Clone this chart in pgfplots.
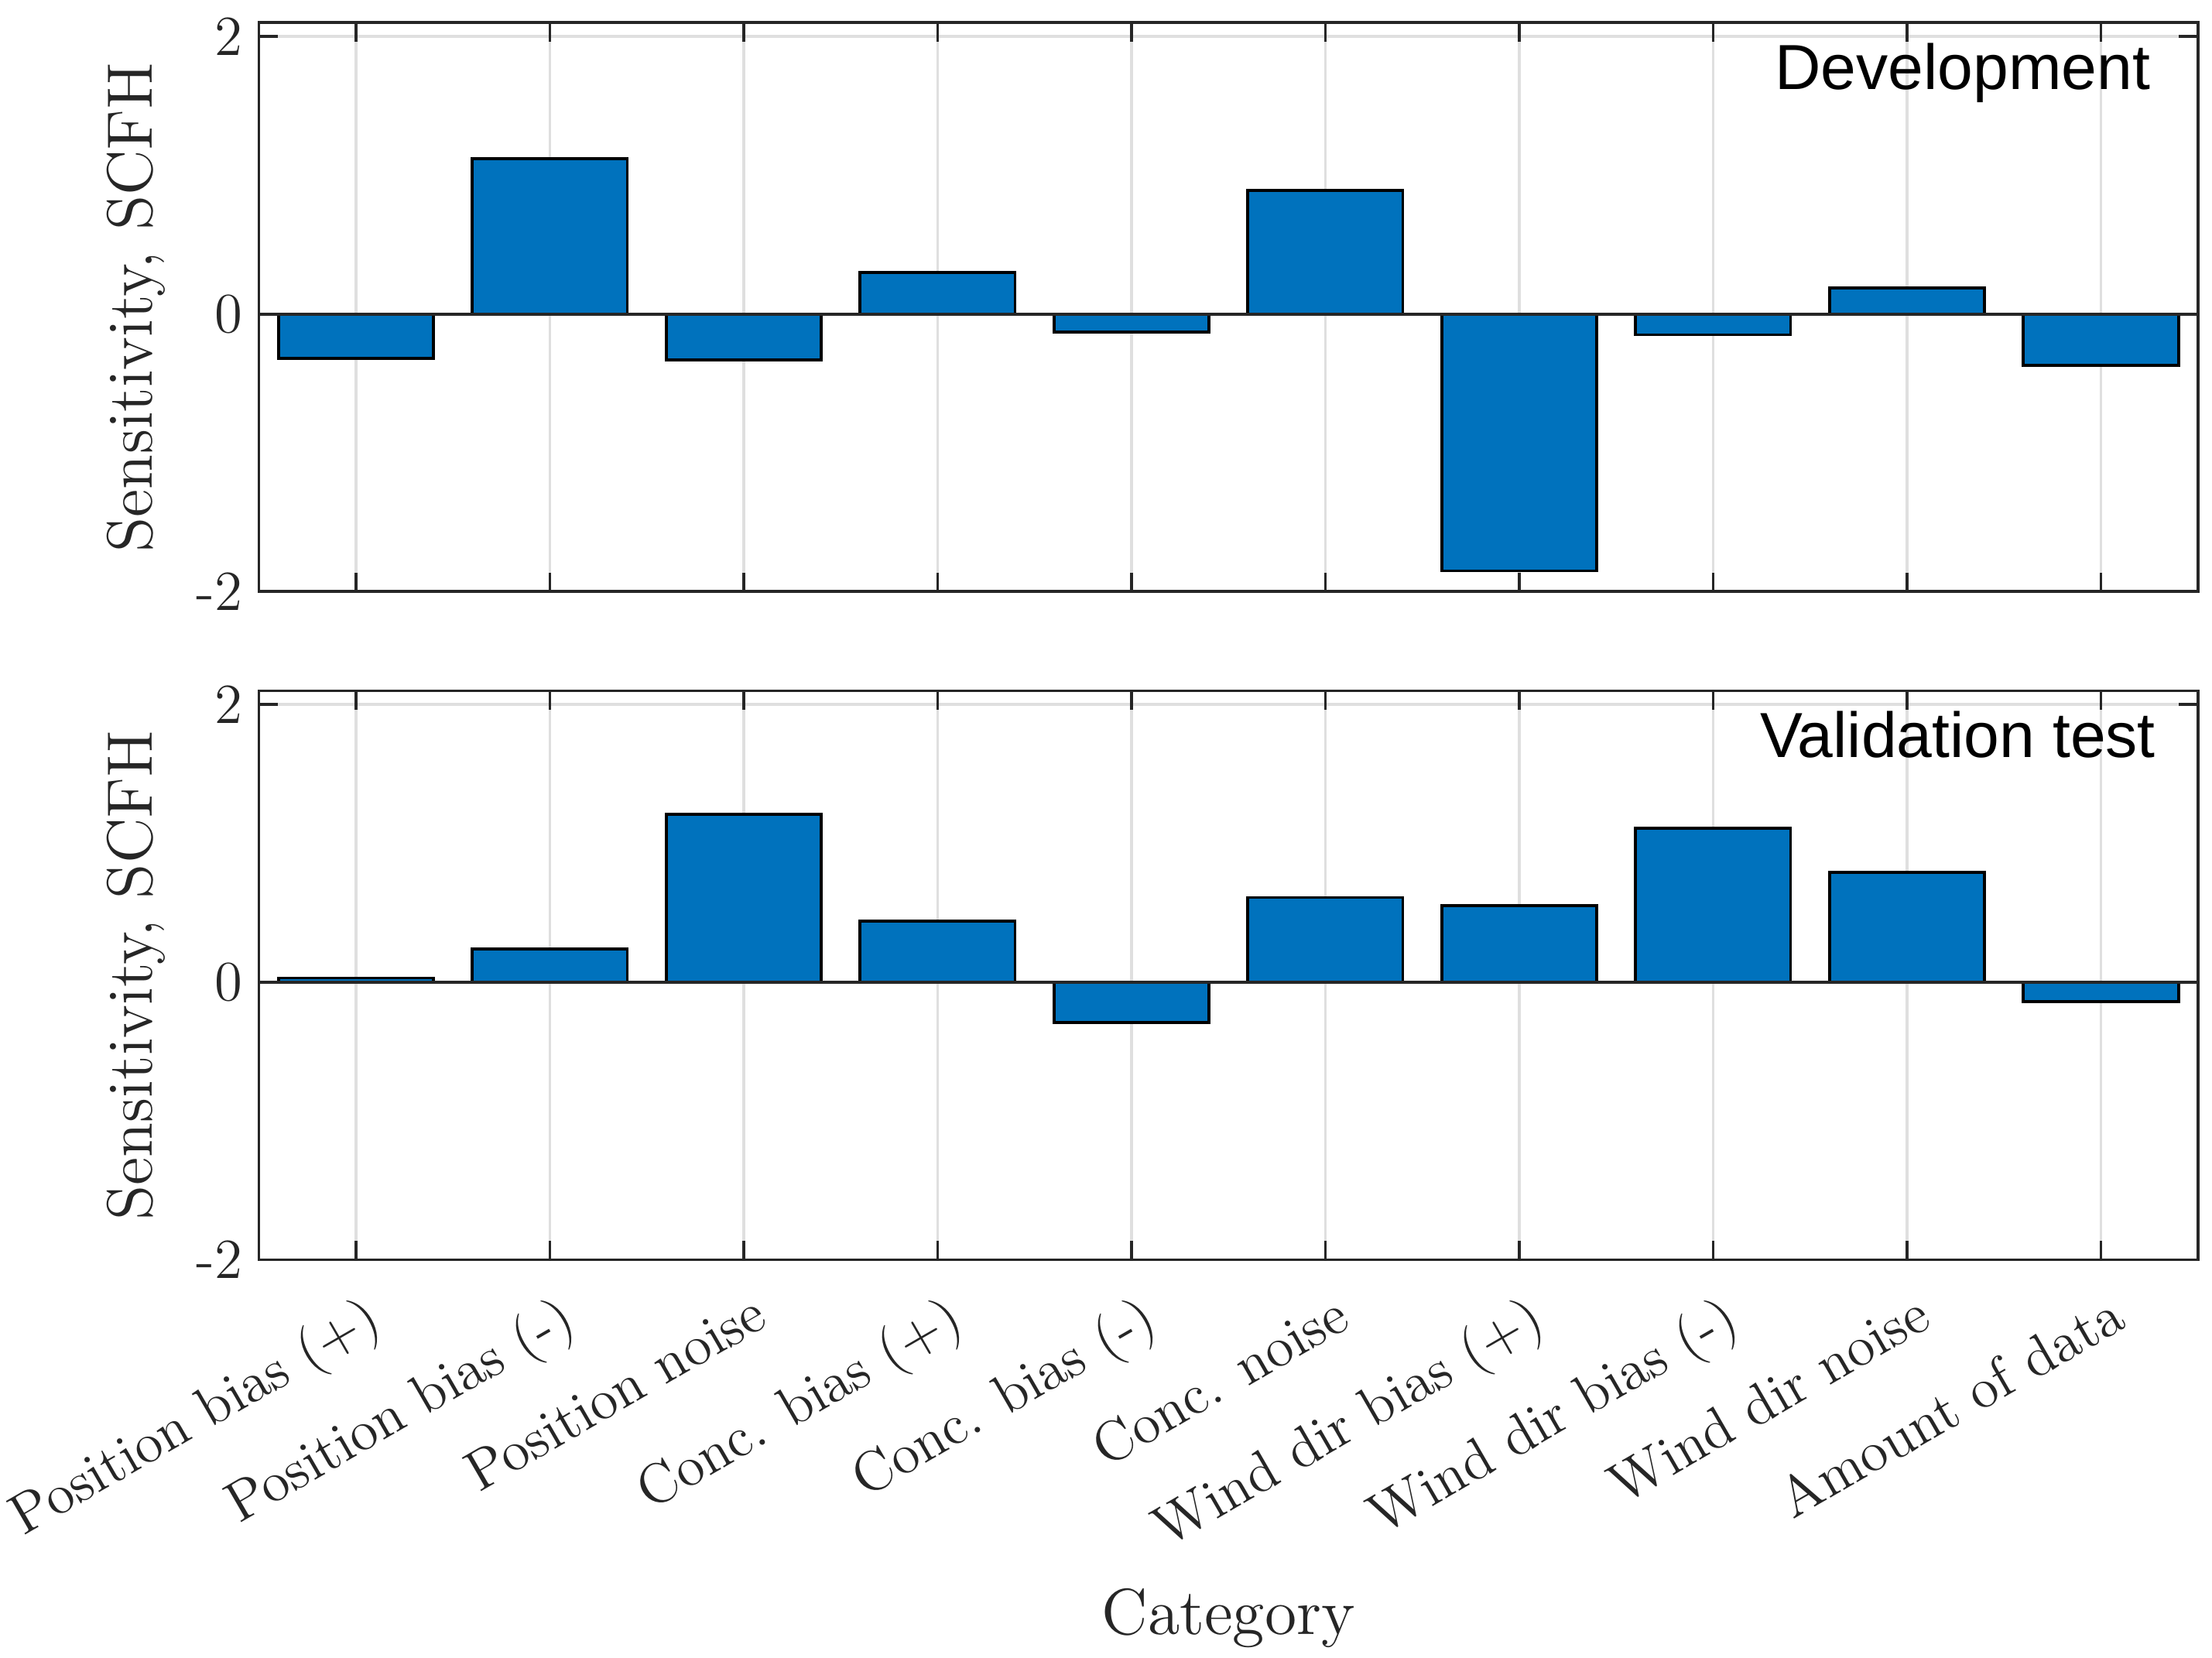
\documentclass[border=0pt]{standalone}
\usepackage{fontspec}
\newfontfamily\arial{Liberation Sans}
\usepackage{pgfplots}
\pgfplotsset{compat=1.18}
\definecolor{mblue}{RGB}{0,114,189}
\definecolor{axgray}{RGB}{38,38,38}
\definecolor{gridgray}{RGB}{223,223,223}
\pgfplotsset{
  mystyle/.style={
    scale only axis, width=411pt, height=120.6pt,
    xmin=0.5, xmax=10.5, ymin=-2, ymax=2.1,
    xtick={1,2,3,4,5,6,7,8,9,10},
    ytick={-2,0,2}, yticklabels={-2,0,2},
    tick align=inside, tick pos=both, major tick length=4pt,
    axis line style={axgray, line width=0.6pt},
    every tick/.style={axgray, line width=0.6pt},
    xmajorgrids, ymajorgrids,
    major grid style={gridgray, line width=0.6pt},
    ticklabel style={font=\fontsize{12}{14}\selectfont, text=axgray},
    ylabel={Sensitivity, SCFH},
    ylabel style={font=\fontsize{13.6}{15}\selectfont, text=axgray,
      at={(axis description cs:-0.0477,0.5)}, anchor=south, inner sep=0pt},
  },
  mybar/.style={ybar, bar width=0.8, fill=mblue, draw=black, line width=0.6pt},
}
\begin{document}
\begin{tikzpicture}
\useasboundingbox (-54.9pt,-84.3pt) rectangle (414pt,267pt);
% top panel
\begin{axis}[mystyle, at={(0pt,141.6pt)}, anchor=south west, xticklabels={}]
\addplot[mybar] coordinates {(1,-0.32) (2,1.12) (3,-0.33) (4,0.30) (5,-0.13) (6,0.89) (7,-1.85) (8,-0.15) (9,0.19) (10,-0.37)};
\addplot[axgray, line width=0.6pt, forget plot] coordinates {(0.5,0) (10.5,0)};
\node[anchor=north east, inner sep=0pt, font=\arial\fontsize{13.5}{15}\selectfont] at (rel axis cs:0.9759,0.965) {Development};
\end{axis}
% bottom panel
\begin{axis}[mystyle, at={(0pt,0pt)}, anchor=south west,
  xticklabels={Position bias (+),Position bias (-),Position noise,Conc. bias (+),Conc. bias (-),Conc. noise,Wind dir bias (+),Wind dir bias (-),Wind dir noise,Amount of data},
  xticklabel style={inner sep=0pt, xshift=1.5pt, yshift=-6.5pt, rotate=30, anchor=north east},
  xlabel={Category},
  xlabel style={font=\fontsize{13.8}{15}\selectfont, text=axgray, at={(axis description cs:0.5,-0.577)}, anchor=north, inner sep=0pt},
]
\addplot[mybar] coordinates {(1,0.03) (2,0.24) (3,1.21) (4,0.44) (5,-0.29) (6,0.61) (7,0.55) (8,1.11) (9,0.79) (10,-0.14)};
\addplot[axgray, line width=0.6pt, forget plot] coordinates {(0.5,0) (10.5,0)};
\node[anchor=north east, inner sep=0pt, font=\arial\fontsize{13.5}{15}\selectfont] at (rel axis cs:0.9786,0.965) {Validation test};
\end{axis}
\end{tikzpicture}
\end{document}
